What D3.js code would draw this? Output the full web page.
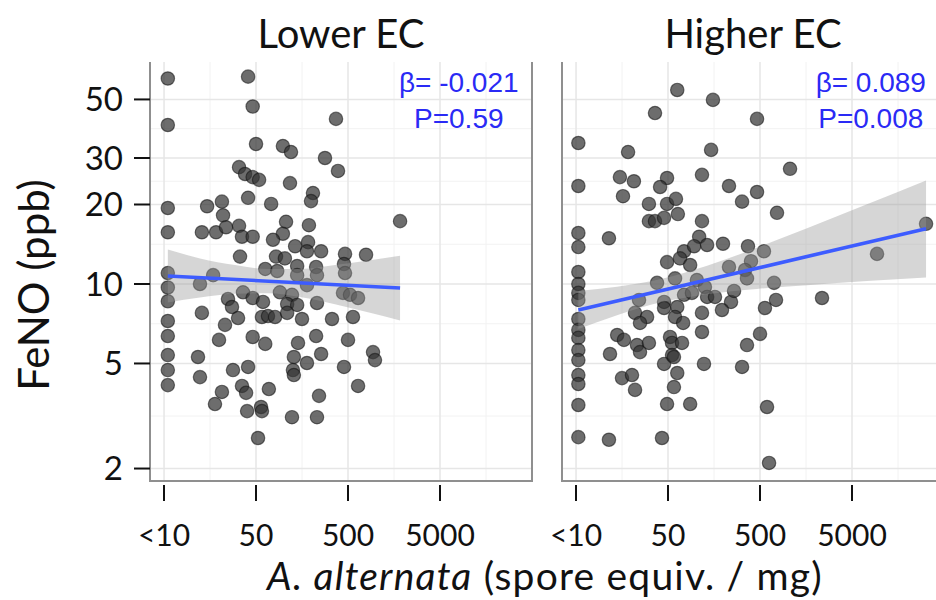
<!DOCTYPE html>
<html><head><meta charset="utf-8">
<script src="https://cdn.jsdelivr.net/npm/d3@7"></script>
<style>body{margin:0;background:#fff}svg{display:block}</style>
</head><body>
<svg id="c" width="936" height="600"></svg>
<script>
// ---------------- DATA ----------------
const panelNames = ["Lower EC", "Higher EC"];
const xTickValues = [5, 50, 500, 5000];
const xTickLabels = ["<10", "50", "500", "5000"];
const yTickValues = [2, 5, 10, 20, 30, 50];
const yTickLabels = ["2", "5", "10", "20", "30", "50"];
const statBeta = ["β= -0.021", "β= 0.089"];
const statP = ["P=0.59", "P=0.008"];

// Lower EC: A. alternata (spore equiv./mg) and FeNO (ppb)
const lowerX = [
 5.5, 41, 46, 5.5, 370, 50, 98, 120, 281, 389,
 32.7, 38, 46, 54, 117, 208, 198, 41, 73, 5.5,
 14.7, 21.3, 21.9, 5.5, 12.9, 18.4, 23.6, 32.7, 35.2, 46,
 106, 98, 188, 76.5, 133, 184, 179, 255, 464, 785,
 33.5, 82.5, 103, 1840, 63, 85, 140, 140, 225, 230,
 452, 464, 5.5, 17.1, 12.3, 5.5, 5.5, 36.1, 46, 59.6,
 24.8, 27.4, 91, 123, 109, 140, 179, 441, 526, 643,
 230, 12.9, 5.5, 23, 31.9, 58, 67.5, 80.5, 109, 158,
 335, 566, 5.5, 19.8, 46, 63, 143, 225, 500, 935,
 982, 5.5, 11.7, 129, 179, 255, 28.1, 41, 5.5, 12.3,
 126, 129, 452, 5.5, 35.2, 39, 69, 643, 21.3, 17.9,
 242, 40, 56.7, 58, 123, 230, 52.6];
const lowerY = [
 60, 61, 47, 40, 42.2, 33.9, 33.3, 31.6, 30, 26.8,
 27.7, 26.1, 25.4, 24.8, 24.1, 22.1, 20.6, 21.2, 20.1, 19.4,
 19.7, 20.5, 18.2, 15.7, 15.7, 15.7, 16.4, 16.6, 15.1, 15.1,
 17.2, 15.5, 16.7, 14.7, 13.9, 14.4, 13.3, 13.3, 13.0, 12.9,
 12.7, 12.7, 12.5, 17.3, 11.4, 11.2, 11.7, 10.8, 11.6, 10.8,
 11.9, 11.0, 11.0, 10.8, 10.0, 9.7, 8.6, 9.3, 8.85, 8.55,
 8.77, 8.18, 9.3, 9.1, 8.4, 8.33, 9.9, 9.25, 9.1, 8.85,
 8.47, 7.77, 7.24, 7.0, 7.43, 7.5, 7.56, 7.5, 7.77, 7.37,
 7.37, 7.5, 6.35, 6.14, 6.3, 5.93, 5.98, 6.35, 6.14, 5.52,
 5.15, 5.38, 5.29, 5.29, 5.02, 5.43, 4.72, 4.85, 4.72, 4.44,
 4.72, 4.52, 4.85, 4.14, 4.11, 3.87, 4.0, 4.11, 3.90, 3.51,
 3.77, 3.30, 3.42, 3.30, 3.13, 3.13, 2.61];

// Higher EC
const higherX = [
 5.3, 5.3, 5.3, 5.3, 5.3, 5.3, 5.3, 5.3, 5.3, 5.3,
 5.3, 5.3, 5.3, 5.3, 5.3, 5.3, 5.3, 11.4, 11.4, 11.7,
 63, 154, 36.1, 464, 18.4, 147, 15, 21.3, 16.2, 48.8,
 41, 117, 230, 319, 464, 1060, 765, 31, 48.8, 61,
 64, 31, 36.1, 45.3, 117, 109, 133, 198, 370, 552,
 399, 74.7, 96, 48.8, 67.5, 87, 230, 344, 38, 59.6,
 103, 126, 361, 710, 24.2, 45.3, 74.7, 91, 133, 162,
 242, 261, 746, 566, 2360, 9350, 31900, 21.9, 29.6, 24.8,
 45.3, 63, 59.6, 73, 117, 193, 117, 14, 16.6, 23,
 31, 24.8, 52.6, 55.3, 71, 500, 361, 55.3, 45.3, 123,
 319, 58, 15.8, 20.3, 21.9, 63, 58, 48.8, 87, 43,
 596, 627];
const higherY = [
 34.2, 23.5, 15.6, 13.8, 11.1, 10.0, 9.25, 8.7, 7.37, 6.7,
 6.25, 5.62, 5.15, 4.52, 4.18, 3.48, 2.63, 14.9, 2.57, 5.43,
 54.3, 49.8, 44.4, 42.2, 31.6, 32.2, 25.4, 24.5, 21.5, 25.2,
 23.3, 25.9, 23.5, 20.5, 22.3, 27.3, 18.6, 20.1, 20.1, 21.0,
 18.4, 17.3, 17.3, 17.8, 17.3, 15.1, 14.05, 14.2, 13.9, 13.3,
 12.2, 13.3, 13.9, 12.1, 12.5, 11.8, 11.6, 11.3, 10.1, 10.5,
 10.35, 9.74, 10.5, 10.1, 8.7, 8.55, 9.1, 9.25, 8.93, 8.93,
 8.55, 9.41, 8.7, 8.11, 8.85, 13.0, 16.9, 7.77, 7.5, 7.12,
 8.11, 8.18, 7.5, 7.12, 7.77, 7.97, 6.58, 6.41, 6.14, 5.87,
 5.98, 5.52, 6.3, 5.98, 5.98, 6.47, 5.87, 5.38, 4.98, 4.98,
 4.85, 5.29, 4.40, 4.52, 3.97, 4.60, 4.07, 3.51, 3.51, 2.61,
 3.42, 2.10];

// fitted lines (log-log) and 95% CI bands
const lowerFitX = [5.5, 1840];
const lowerFitY = [10.72, 9.66];
const lowerBandX = [5.5, 12.3, 29.6, 67.5, 150, 361, 867, 1840];
const lowerBandLo = [8.51, 8.89, 9.18, 9.22, 8.93, 8.38, 7.78, 7.27];
const lowerBandHi = [13.5, 12.5, 11.8, 11.4, 11.4, 11.8, 12.3, 12.8];

const higherFitX = [5.3, 31900];
const higherFitY = [7.97, 16.2];
const higherBandX = [5.3, 13.96, 43.0, 133, 464, 1622, 7275, 31900];
const higherBandLo = [6.75, 7.62, 8.54, 9.15, 9.58, 9.90, 10.26, 10.58];
const higherBandHi = [9.41, 9.77, 10.47, 11.72, 13.72, 16.25, 20.04, 24.66];

// ---------------- LAYOUT ----------------
const svg = d3.select("#c");
const yTop = 62, yBot = 481;
const layout = [
  {x0: 150, x1: 532, xs: lowerX, ys: lowerY, fx: lowerFitX, fy: lowerFitY,
   bx: lowerBandX, blo: lowerBandLo, bhi: lowerBandHi},
  {x0: 562, x1: 944, xs: higherX, ys: higherY, fx: higherFitX, fy: higherFitY,
   bx: higherBandX, blo: higherBandLo, bhi: higherBandHi}
];
const y = d3.scaleLog().domain([1.794, 69.3]).range([yBot, yTop]);
const yMinor = [Math.sqrt(10), Math.sqrt(50), Math.sqrt(200), Math.sqrt(600), Math.sqrt(1500)];
const xMinor = [15.81, 158.1, 1581, 15811];
const FONT = "Lato, 'Open Sans', sans-serif";

layout.forEach((p, i) => {
  const x = d3.scaleLog().domain([3.52, 50000]).range([p.x0, p.x1]);
  const g = svg.append("g");
  const clipId = "clip" + i;
  svg.append("defs").append("clipPath").attr("id", clipId)
    .append("rect").attr("x", p.x0).attr("y", yTop).attr("width", p.x1 - p.x0).attr("height", yBot - yTop);
  const pg = g.append("g").attr("clip-path", `url(#${clipId})`);

  // grid
  pg.selectAll(".ymin").data(yMinor).join("line")
    .attr("x1", p.x0).attr("x2", p.x1).attr("y1", d => y(d)).attr("y2", d => y(d))
    .attr("stroke", "#f2f2f2").attr("stroke-width", 1);
  pg.selectAll(".xmin").data(xMinor).join("line")
    .attr("y1", yTop).attr("y2", yBot).attr("x1", d => x(d)).attr("x2", d => x(d))
    .attr("stroke", "#f2f2f2").attr("stroke-width", 1);
  pg.selectAll(".ymaj").data(yTickValues).join("line")
    .attr("x1", p.x0).attr("x2", p.x1).attr("y1", d => y(d)).attr("y2", d => y(d))
    .attr("stroke", "#e6e6e6").attr("stroke-width", 1.5);
  pg.selectAll(".xmaj").data(xTickValues).join("line")
    .attr("y1", yTop).attr("y2", yBot).attr("x1", d => x(d)).attr("x2", d => x(d))
    .attr("stroke", "#e6e6e6").attr("stroke-width", 1.5);

  // points
  const pts = p.xs.map((v, k) => [v, p.ys[k]]);
  pg.selectAll("circle").data(pts).join("circle")
    .attr("cx", d => x(d[0])).attr("cy", d => y(d[1])).attr("r", 6.7)
    .attr("fill", "#353535").attr("fill-opacity", 0.72)
    .attr("stroke", "#111").attr("stroke-opacity", 0.55).attr("stroke-width", 1.2);

  // band
  const band = p.bx.map((v, k) => [v, p.blo[k], p.bhi[k]]);
  pg.append("path").datum(band)
    .attr("d", d3.area().x(d => x(d[0])).y0(d => y(d[1])).y1(d => y(d[2])).curve(d3.curveMonotoneX))
    .attr("fill", "#999").attr("fill-opacity", 0.4);
  // fit line
  const fit = p.fx.map((v, k) => [v, p.fy[k]]);
  pg.append("path").datum(fit)
    .attr("d", d3.line().x(d => x(d[0])).y(d => y(d[1])))
    .attr("fill", "none").attr("stroke", "#3d5cff").attr("stroke-width", 3.6);

  // borders (left, right, bottom)
  g.append("path")
    .attr("d", `M${p.x0},${yTop}V${yBot}H${p.x1}V${yTop}`)
    .attr("fill", "none").attr("stroke", "#8f8f8f").attr("stroke-width", 2);

  // x ticks
  g.selectAll(".xt").data(xTickValues).join("line")
    .attr("x1", d => x(d)).attr("x2", d => x(d)).attr("y1", yBot + 4).attr("y2", yBot + 20)
    .attr("stroke", "#111").attr("stroke-width", 2);
  g.selectAll(".xl").data(xTickValues).join("text")
    .attr("x", d => x(d)).attr("y", 546).attr("text-anchor", "middle")
    .attr("font-family", FONT).attr("font-size", 30).attr("fill", "#111")
    .text((d, k) => xTickLabels[k]);

  // y ticks on the left panel only
  if (i === 0) {
    g.selectAll(".yt").data(yTickValues).join("line")
      .attr("x1", p.x0 - 16).attr("x2", p.x0).attr("y1", d => y(d)).attr("y2", d => y(d))
      .attr("stroke", "#111").attr("stroke-width", 2);
    g.selectAll(".yl").data(yTickValues).join("text")
      .attr("x", p.x0 - 27).attr("y", d => y(d)).attr("dy", "0.35em").attr("text-anchor", "end")
      .attr("font-family", FONT).attr("font-size", 33).attr("fill", "#111")
      .text((d, k) => yTickLabels[k]);
  }

  // facet title
  g.append("text").attr("x", (p.x0 + p.x1) / 2).attr("y", 48).attr("text-anchor", "middle")
    .attr("font-family", FONT).attr("font-size", 40).attr("fill", "#111").text(panelNames[i]);

  // stats
  const sx = x(8000);
  g.append("text").attr("x", sx).attr("y", 92).attr("text-anchor", "middle")
    .attr("font-family", "'Liberation Sans', Arial, sans-serif").attr("font-size", 28)
    .attr("fill", "#2a2af5").text(statBeta[i]);
  g.append("text").attr("x", sx).attr("y", 128).attr("text-anchor", "middle")
    .attr("font-family", "'Liberation Sans', Arial, sans-serif").attr("font-size", 28)
    .attr("fill", "#2a2af5").text(statP[i]);
});

// axis titles
svg.append("text").attr("transform", "translate(49,285) rotate(-90)").attr("text-anchor", "middle")
  .attr("font-family", FONT).attr("font-size", 42).attr("fill", "#111").text("FeNO (ppb)");
const xt = svg.append("text").attr("x", 545).attr("y", 590).attr("text-anchor", "middle")
  .attr("font-family", FONT).attr("font-size", 39).attr("letter-spacing", 1.2).attr("fill", "#111");
xt.append("tspan").attr("font-style", "italic").text("A. alternata");
xt.append("tspan").text(" (spore equiv. / mg)");
</script>
</body></html>
